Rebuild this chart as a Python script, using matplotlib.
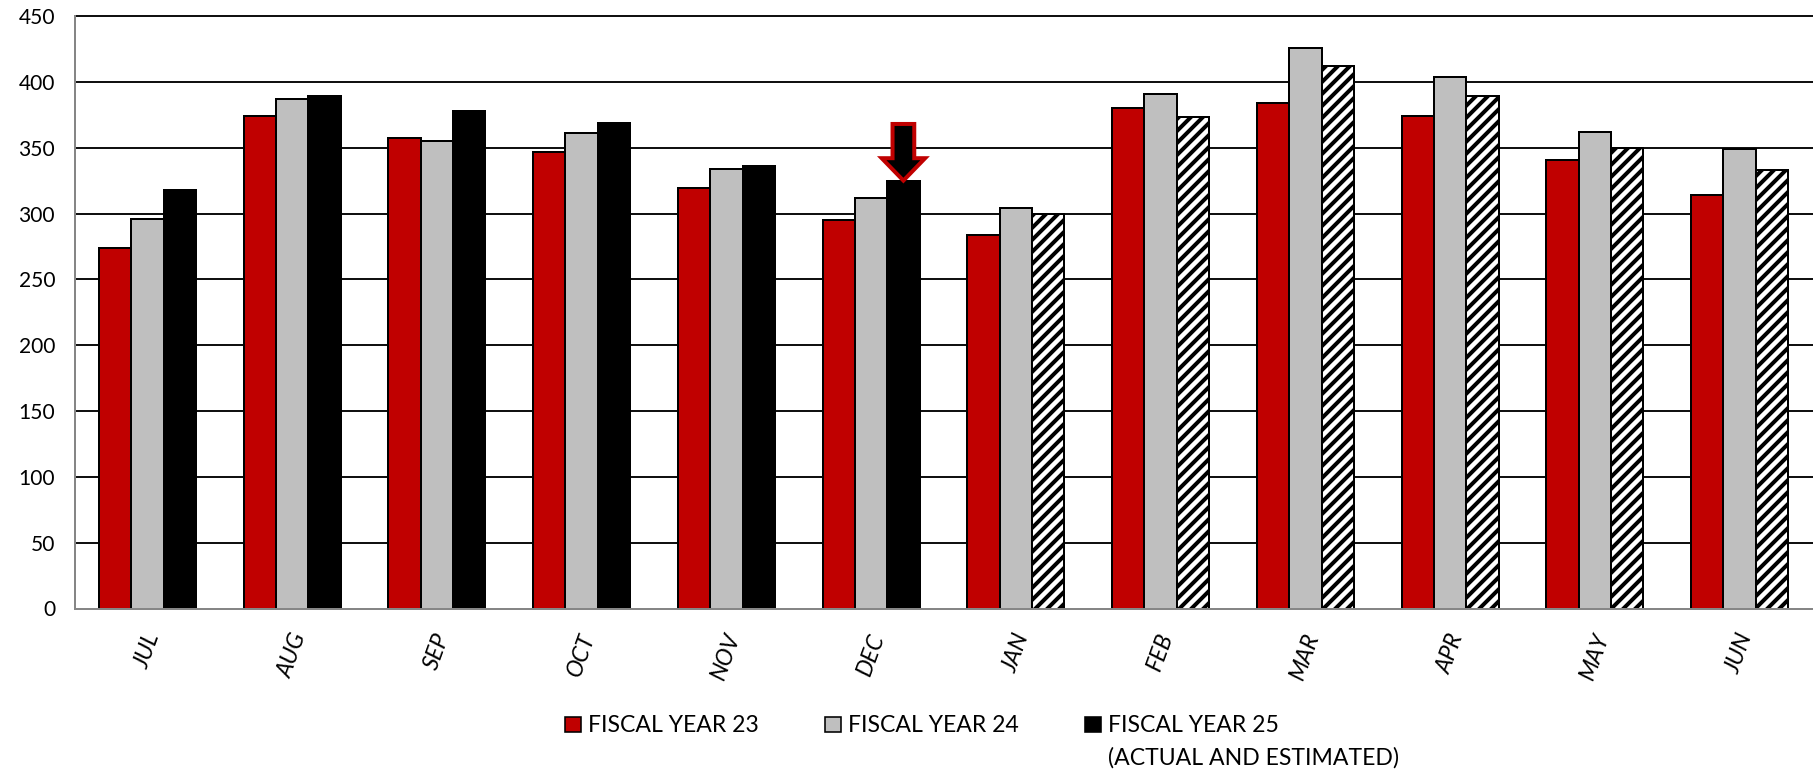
import matplotlib
matplotlib.use("Agg")
import matplotlib.pyplot as plt
from matplotlib.patches import Patch, FancyArrow
import numpy as np

# ---- data ----
months = ["JUL", "AUG", "SEP", "OCT", "NOV", "DEC", "JAN", "FEB", "MAR", "APR", "MAY", "JUN"]
fy23 = [274, 374, 357, 347, 319, 295, 284, 380, 384, 374, 341, 314]
fy24 = [296, 387, 355, 361, 334, 312, 304, 391, 426, 404, 362, 349]
fy25 = [318, 389, 378, 369, 336, 325, 300, 373, 412, 389, 350, 333]
fy25_actual_months = 6          # JUL..DEC actual, JAN..JUN estimated
arrow_month = "DEC"
yticks = [0, 50, 100, 150, 200, 250, 300, 350, 400, 450]
legend_labels = ["FISCAL YEAR 23", "FISCAL YEAR 24", "FISCAL YEAR 25"]
legend_note = "(ACTUAL AND ESTIMATED)"

# ---- style ----
RED = "#C00000"
GRAY = "#BFBFBF"
BLACK = "#000000"
DPI = 144
W, H = 1818, 777
FONT = "Lato"

plt.rcParams["font.family"] = [FONT, "DejaVu Sans"]
plt.rcParams["hatch.linewidth"] = 2.0

fig = plt.figure(figsize=(W / DPI, H / DPI), dpi=DPI)
ax = fig.add_axes([75 / W, 1 - 608.5 / H, (1812 - 75) / W, (608.5 - 16) / H])

x = np.arange(len(months))
bw = 0.223
edge_lw = 1.0

ax.bar(x - bw, fy23, bw, color=RED, edgecolor=BLACK, linewidth=edge_lw, zorder=3)
ax.bar(x, fy24, bw, color=GRAY, edgecolor=BLACK, linewidth=edge_lw, zorder=3)
for i, v in enumerate(fy25):
    if i < fy25_actual_months:
        ax.bar(x[i] + bw, v, bw, color=BLACK, edgecolor=BLACK, linewidth=edge_lw, zorder=3)
    else:
        ax.bar(x[i] + bw, v, bw, color="white", edgecolor=BLACK, hatch="////",
               linewidth=edge_lw, zorder=3)

# arrow pointing at the DEC FY25 bar
ai = months.index(arrow_month)
tip = fy25[ai]
alen = 43
arr = FancyArrow(x[ai] + bw, tip + alen, 0, -alen, width=0.15, head_width=0.30,
                 head_length=17, length_includes_head=True,
                 facecolor=BLACK, edgecolor=RED, linewidth=2.0, zorder=5)
ax.add_patch(arr)

ax.set_xlim(-0.5, len(months) - 0.5)
ax.set_ylim(0, 450)
ax.set_yticks(yticks)
ax.set_yticklabels([str(t) for t in yticks], fontsize=10.5)
ax.set_xticks(x)
ax.set_xticklabels(months, rotation=70, fontsize=11.5, style="italic")
ax.tick_params(axis="y", length=0, pad=10)
ax.tick_params(axis="x", length=0, pad=11)

ax.yaxis.grid(True, color="#111111", linewidth=1.0, zorder=0)
for gl in ax.get_ygridlines():
    gl.set_clip_on(False)
ax.set_axisbelow(True)

for s in ["top", "right"]:
    ax.spines[s].set_visible(False)
for s in ["left", "bottom"]:
    ax.spines[s].set_color("#868686")
    ax.spines[s].set_linewidth(1.0)
    ax.spines[s].set_zorder(4)

handles = [Patch(facecolor=RED, edgecolor=BLACK, linewidth=0.8),
           Patch(facecolor=GRAY, edgecolor=BLACK, linewidth=0.8),
           Patch(facecolor=BLACK, edgecolor=BLACK, linewidth=0.8)]
leg_fs = 11.5
leg = fig.legend(handles, legend_labels, loc="center left",
                 bbox_to_anchor=(565 / W, 1 - 726 / H), ncol=3, frameon=False,
                 fontsize=leg_fs, handlelength=0.68, handleheight=0.68,
                 handletextpad=0.3, columnspacing=2.9, borderpad=0, borderaxespad=0)

fig.canvas.draw()
tb = leg.get_texts()[2].get_window_extent()
fig.text(tb.x0 / W, 1 - 758 / H, legend_note, fontsize=leg_fs, ha="left", va="center")

fig.savefig("out.png", dpi=DPI)
